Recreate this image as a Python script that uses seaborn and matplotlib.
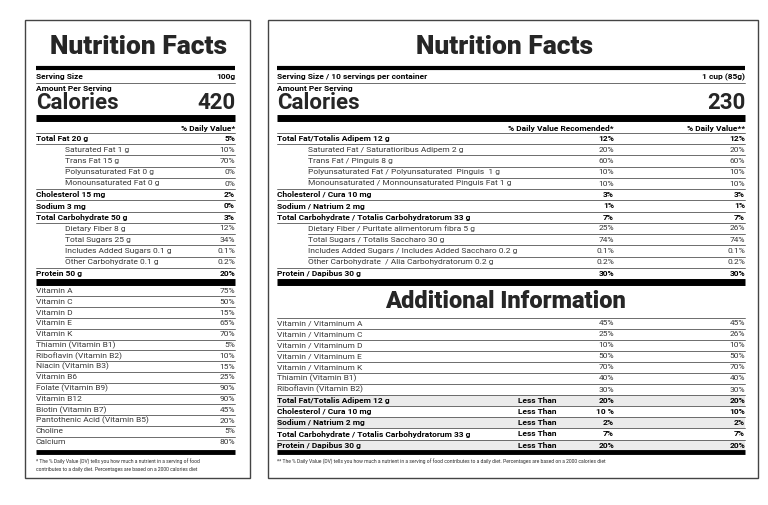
import matplotlib
matplotlib.use("Agg")
import matplotlib.pyplot as plt
import seaborn as sns

sns.set_theme(style="white", rc={"font.family": "Roboto"})

# ---- left label data
left_serving = "100g"
left_calories = "420"
left_rows = ["Total Fat 20 g", "Saturated Fat 1 g", "Trans Fat 15 g", "Polyunsaturated Fat 0 g",
             "Monounsaturated Fat 0 g", "Cholesterol 15 mg", "Sodium 3 mg", "Total Carbohydrate 50 g",
             "Dietary Fiber 8 g", "Total Sugars 25 g", "Includes Added Sugars 0.1 g",
             "Other Carbohydrate 0.1 g", "Protein 50 g"]
left_dv = ["5%", "10%", "70%", "0%", "0%", "2%", "0%", "3%", "12%", "34%", "0.1%", "0.2%", "20%"]
row_bold = [True, False, False, False, False, True, True, True, False, False, False, False, True]
left_vitamins = ["Vitamin A", "Vitamin C", "Vitamin D", "Vitamin E", "Vitamin K", "Thiamin (Vitamin B1)",
                 "Riboflavin (Vitamin B2)", "Niacin (Vitamin B3)", "Vitamin B6", "Folate (Vitamin B9)",
                 "Vitamin B12", "Biotin (Vitamin B7)", "Pantothenic Acid (Vitamin B5)", "Choline", "Calcium"]
left_vit_dv = ["75%", "50%", "15%", "65%", "70%", "5%", "10%", "15%", "25%", "90%", "90%", "45%", "20%", "5%", "80%"]

# ---- right label data
right_serving = "1 cup (85g)"
right_calories = "230"
right_rows = ["Total Fat/Totalis Adipem 12 g", "Saturated Fat / Saturatioribus Adipem 2 g",
              "Trans Fat / Pinguis 8 g", "Polyunsaturated Fat / Polyunsaturated  Pinguis  1 g",
              "Monounsaturated / Monnounsaturated Pinguis Fat 1 g", "Cholesterol / Cura 10 mg",
              "Sodium / Natrium 2 mg", "Total Carbohydrate / Totalis Carbohydratorum 33 g",
              "Dietary Fiber / Puritate alimentorum fibra 5 g", "Total Sugars / Totalis Saccharo 30 g",
              "Includes Added Sugars / Includes Added Saccharo 0.2 g",
              "Other Carbohydrate  / Alia Carbohydratorum 0.2 g", "Protein / Dapibus 30 g"]
right_dv1 = ["12%", "20%", "60%", "10%", "10%", "3%", "1%", "7%", "25%", "74%", "0.1%", "0.2%", "30%"]
right_dv2 = ["12%", "20%", "60%", "10%", "10%", "3%", "1%", "7%", "26%", "74%", "0.1%", "0.2%", "30%"]
add_vitamins = ["Vitamin / Vitaminum A", "Vitamin / Vitaminum C", "Vitamin / Vitaminum D",
                "Vitamin / Vitaminum E", "Vitamin / Vitaminum K", "Thiamin (Vitamin B1)", "Riboflavin (Vitamin B2)"]
add_vit_dv1 = ["45%", "25%", "10%", "50%", "70%", "40%", "30%"]
add_vit_dv2 = ["45%", "26%", "10%", "50%", "70%", "40%", "30%"]
limits = ["Total Fat/Totalis Adipem 12 g", "Cholesterol / Cura 10 mg", "Sodium / Natrium 2 mg",
          "Total Carbohydrate / Totalis Carbohydratorum 33 g", "Protein / Dapibus 30 g"]
limit_dv1 = ["20%", "10 %", "2%", "7%", "20%"]
limit_dv2 = ["20%", "10%", "2%", "7%", "20%"]

fig = plt.figure(figsize=(7.68, 5.05), dpi=100)
ax = fig.add_axes([0, 0, 1, 1])
ax.set_xlim(0, 768)
ax.set_ylim(505, 0)
ax.axis("off")

FS = 6


def bar(x0, x1, y, lw):
    ax.plot([x0, x1], [y, y], color="black", lw=lw, solid_capstyle="butt")


def thin(x0, x1, y):
    ax.plot([x0, x1], [y, y], color="#555555", lw=0.6)


def txt(x, y, s, size=FS, bold=False, ha="left"):
    ax.text(x, y, s, fontsize=size, fontweight="bold" if bold else "normal", ha=ha, va="center",
            color="black" if bold else "#333333")


def header(x0, x1, serving_label, serving, calories):
    bar(x0, x1, 68, 3)
    txt(x0, 77, serving_label, bold=True)
    txt(x1, 77, serving, bold=True, ha="right")
    thin(x0, x1, 82.5)
    txt(x0, 89, "Amount Per Serving", bold=True)
    ax.text(x0, 103, "Calories", fontsize=16, fontweight="bold", va="center")
    ax.text(x1, 103, calories, fontsize=16, fontweight="bold", va="center", ha="right")
    bar(x0, x1, 118, 5)


# frames
for (x0, x1) in [(25, 250), (268, 758)]:
    ax.add_patch(plt.Rectangle((x0, 20), x1 - x0, 458, fill=False, ec="#444444", lw=1))

# left label
lx0, lx1 = 36, 235
ax.text(138, 47, "Nutrition Facts", fontsize=19, fontweight=900, ha="center", va="center")
header(lx0, lx1, "Serving Size", left_serving, left_calories)
txt(lx1, 128, "% Daily Value*", bold=True, ha="right")
thin(lx0, lx1, 133)
ystep = 11.25
for i, (name, dv, b) in enumerate(zip(left_rows, left_dv, row_bold)):
    y = 138.5 + i * ystep
    txt(lx0 if b else 65, y, name, bold=b)
    txt(lx1, y, dv, bold=b, ha="right")
    if i < len(left_rows) - 1:
        thin(lx0 if (b or row_bold[i + 1]) else 65, lx1, y + ystep / 2)
bar(lx0, lx1, 282, 5)
vstep = 10.8
for i, (name, dv) in enumerate(zip(left_vitamins, left_vit_dv)):
    y = 291 + i * vstep
    txt(lx0, y, name)
    txt(lx1, y, dv, ha="right")
    if i < len(left_vitamins) - 1:
        thin(lx0, lx1, y + vstep / 2)
bar(lx0, lx1, 452, 3.5)
ax.text(lx0, 462, "* The % Daily Value (DV) tells you how much a nutrient in a serving of food", fontsize=3.6, va="center")
ax.text(lx0, 470, "contributes to a daily diet. Percentages are based on a 2000 calories diet", fontsize=3.6, va="center")

# right label
rx0, rx1, rc1 = 277, 745, 614
ax.text(505, 47, "Nutrition Facts", fontsize=19, fontweight=900, ha="center", va="center")
header(rx0, rx1, "Serving Size / 10 servings per container", right_serving, right_calories)
txt(rc1, 128, "% Daily Value Recomended*", bold=True, ha="right")
txt(rx1, 128, "% Daily Value**", bold=True, ha="right")
thin(rx0, rx1, 133)
for i, (name, d1, d2, b) in enumerate(zip(right_rows, right_dv1, right_dv2, row_bold)):
    y = 138.5 + i * ystep
    txt(rx0 if b else 308, y, name, bold=b)
    txt(rc1, y, d1, bold=b, ha="right")
    txt(rx1, y, d2, bold=b, ha="right")
    if i < len(right_rows) - 1:
        thin(rx0 if (b or row_bold[i + 1]) else 308, rx1, y + ystep / 2)
bar(rx0, rx1, 282, 5)
ax.text(505, 301, "Additional Information", fontsize=17, fontweight=900, ha="center", va="center")
thin(rx0, rx1, 317.5)
astep = 11.1
for i, (name, d1, d2) in enumerate(zip(add_vitamins, add_vit_dv1, add_vit_dv2)):
    y = 323 + i * astep
    txt(rx0, y, name)
    txt(rc1, y, d1, ha="right")
    txt(rx1, y, d2, ha="right")
    thin(rx0, rx1, y + astep / 2)
y_lim0 = 323 + len(add_vitamins) * astep
for i, (name, d1, d2) in enumerate(zip(limits, limit_dv1, limit_dv2)):
    y = y_lim0 + i * astep
    if i % 2 == 0:
        ax.add_patch(plt.Rectangle((rx0, y - astep / 2), rx1 - rx0, astep, color="#ebebeb", lw=0))
    txt(rx0, y, name, bold=True)
    txt(518, y, "Less Than", bold=True)
    txt(rc1, y, d1, bold=True, ha="right")
    txt(rx1, y, d2, bold=True, ha="right")
    if i < len(limits) - 1:
        thin(rx0, rx1, y + astep / 2)
bar(rx0, rx1, 452, 3.5)
ax.text(rx0, 462, "** The % Daily Value (DV) tells you how much a nutrient in a serving of food contributes to a daily diet. "
        "Percentages are based on a 2000 calories diet", fontsize=3.6, va="center")

fig.savefig("out.png", dpi=100, facecolor="white")
